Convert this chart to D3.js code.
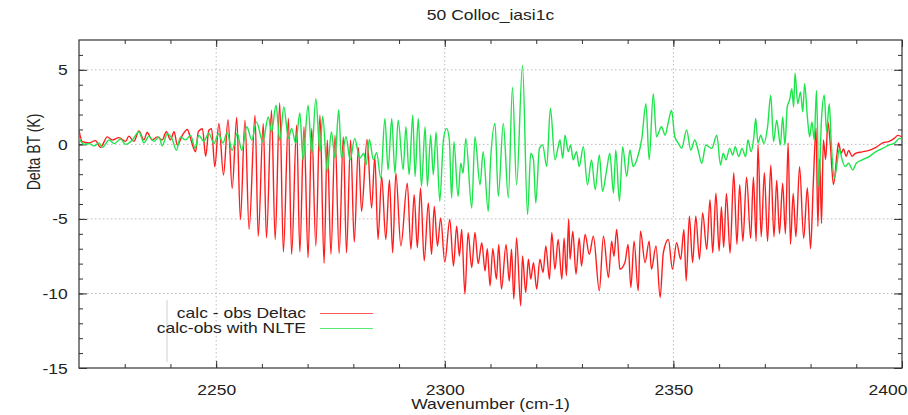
<!DOCTYPE html>
<html>
<head>
<meta charset="utf-8">
<script src="https://cdn.jsdelivr.net/npm/d3@7"></script>
<style>
  body { margin: 0; background: #fff; }
  text { font-family: "Liberation Sans", Arial, Helvetica, sans-serif; fill: #222; }
</style>
</head>
<body>
<div id="chart"></div>
<script>
// calc - obs Deltac : [wavenumber, delta BT]
var deltacData = [
  [2220.0, 0.95], [2220.7, 0.18], [2222.2, 0.1], [2223.6, 0.25], [2224.7, -0.2], [2226.2, 0.5],
  [2227.3, 0.3], [2228.7, 0.45], [2230.2, 0.2], [2230.9, 0.55], [2232.0, 0.2], [2233.1, 0.9],
  [2234.2, 0.3], [2234.9, 0.8], [2236.0, 0.3], [2237.1, 0.5], [2238.2, 0.3], [2239.1, 0.85],
  [2240.0, 0.3], [2240.8, 0.85], [2241.5, -0.05], [2242.6, 0.6], [2243.7, 1.0], [2244.4, 0.4],
  [2245.5, -0.5], [2246.1, 0.85], [2247.0, 1.05], [2247.7, -0.8], [2248.4, 0.95], [2249.0, 1.05],
  [2249.7, -1.5], [2250.6, 1.4], [2251.6, -2.05], [2252.6, 1.65], [2253.5, -2.95], [2254.5, 1.8],
  [2255.3, -5.05], [2256.3, 1.62], [2257.2, -5.71], [2258.5, 1.96], [2259.2, -6.16], [2260.3, 1.4],
  [2261.0, -6.27], [2262.1, 2.29], [2262.9, -6.38], [2263.9, 2.78], [2264.7, -7.22], [2265.8, 1.73],
  [2266.5, -7.38], [2267.6, 1.29], [2268.3, -7.22], [2269.2, 1.18], [2270.1, -7.6], [2270.9, 1.07],
  [2271.8, -6.82], [2272.7, 1.96], [2273.6, -7.98], [2274.3, 0.29], [2275.1, -7.38], [2276.0, 0.62],
  [2276.9, -7.33], [2277.8, 0.51], [2278.5, -7.27], [2279.4, 0.29], [2280.2, -6.56], [2281.1, -0.2],
  [2281.8, -4.49], [2283.0, 0.33], [2284.0, -4.27], [2284.7, -0.82], [2285.4, -6.38], [2286.2, -2.16],
  [2287.1, -6.38], [2287.9, -2.38], [2288.6, -7.27], [2289.3, -1.93], [2290.4, -6.8], [2291.8, -2.6],
  [2292.6, -7.04], [2293.3, -3.38], [2294.0, -6.93], [2294.7, -2.93], [2295.5, -7.82], [2296.4, -3.93],
  [2297.1, -7.38], [2297.7, -4.16], [2298.4, -6.82], [2299.1, -4.93], [2300.0, -7.9], [2301.1, -5.04],
  [2301.9, -8.16], [2302.6, -5.49], [2303.2, -7.49], [2303.7, -5.71], [2304.4, -10.04], [2305.1, -5.93],
  [2305.9, -8.27], [2306.6, -5.9], [2307.3, -8.0], [2308.1, -6.6], [2308.8, -8.49], [2309.3, -7.0],
  [2309.9, -9.49], [2310.5, -7.0], [2311.3, -9.04], [2311.8, -6.71], [2312.4, -9.71], [2313.4, -6.71],
  [2314.1, -9.16], [2314.6, -7.04], [2315.1, -10.38], [2315.7, -6.27], [2316.6, -10.82], [2317.0, -7.49],
  [2317.7, -9.93], [2318.3, -7.71], [2318.8, -9.04], [2319.4, -7.93], [2320.1, -9.71], [2320.8, -7.71],
  [2321.5, -8.6], [2322.1, -6.82], [2322.9, -9.04], [2323.4, -5.93], [2324.1, -8.38], [2324.8, -6.38],
  [2325.6, -9.04], [2326.1, -6.3], [2326.6, -8.8], [2327.1, -5.0], [2327.4, -7.71], [2328.0, -5.82],
  [2328.7, -8.71], [2329.4, -6.27], [2329.9, -8.16], [2330.7, -6.04], [2331.6, -7.38], [2332.5, -6.16],
  [2333.8, -9.82], [2334.7, -6.16], [2335.8, -8.93], [2336.5, -6.49], [2337.0, -7.5], [2337.6, -5.71],
  [2338.3, -8.38], [2339.4, -7.93], [2340.1, -6.71], [2340.7, -9.6], [2341.4, -6.49], [2342.3, -9.82],
  [2342.8, -5.82], [2343.8, -7.93], [2344.7, -6.49], [2345.2, -8.38], [2346.2, -6.82], [2347.1, -10.27],
  [2347.8, -7.27], [2348.9, -6.38], [2349.8, -8.38], [2350.7, -6.6], [2351.6, -7.71], [2352.3, -5.71],
  [2352.8, -9.16], [2353.5, -4.82], [2354.2, -7.93], [2354.9, -4.82], [2355.7, -7.71], [2356.4, -4.6],
  [2357.3, -7.04], [2358.0, -3.71], [2358.6, -7.27], [2359.3, -3.27], [2360.0, -7.16], [2360.5, -4.2],
  [2361.0, -6.9], [2361.6, -3.3], [2362.4, -7.3], [2363.2, -1.9], [2363.9, -6.7], [2364.5, -2.7],
  [2365.2, -6.5], [2366.0, -2.2], [2366.9, -6.3], [2367.5, -2.2], [2368.1, -6.5], [2368.5, 0.0],
  [2369.2, -6.2], [2369.9, -1.9], [2370.6, -6.5], [2371.3, -1.4], [2372.0, -6.2], [2372.6, -2.4],
  [2373.2, -6.0], [2373.9, -2.6], [2374.5, -6.0], [2375.1, 0.1], [2375.6, -6.7], [2376.2, -3.3],
  [2376.8, -6.2], [2377.6, -1.5], [2378.5, -6.3], [2379.3, -2.9], [2380.0, -7.0], [2380.6, -2.6],
  [2381.2, 1.1], [2381.6, -5.5], [2382.0, -1.0], [2382.4, -5.3], [2382.8, 0.3], [2383.3, -1.0],
  [2383.8, 1.5], [2384.3, 0.1], [2385.0, -2.7], [2385.8, -0.6], [2386.1, 0.1], [2386.7, -0.6],
  [2387.2, -0.3], [2387.8, -0.8], [2388.3, -0.4], [2389.1, -0.8], [2389.8, -0.6], [2391.3, -0.5],
  [2392.8, -0.4], [2394.3, -0.2], [2395.8, 0.1], [2397.2, 0.2], [2398.3, 0.4], [2399.1, 0.6],
  [2400.0, 0.5]
];

// calc-obs with NLTE : [wavenumber, delta BT]
var nlteData = [
  [2220.0, 0.4], [2221.1, 0.0], [2222.2, 0.05], [2223.3, -0.1], [2224.4, 0.1], [2225.1, -0.2],
  [2226.6, 0.3], [2227.7, 0.05], [2229.1, 0.35], [2230.2, 0.0], [2231.7, 0.3], [2233.1, 0.85],
  [2234.2, 0.1], [2235.3, 0.55], [2236.4, 0.2], [2237.5, 0.5], [2238.2, -0.1], [2239.3, 0.7],
  [2240.4, 0.35], [2241.3, -0.4], [2242.2, 0.5], [2243.3, 0.3], [2244.4, 0.6], [2245.4, -0.25],
  [2246.2, 0.6], [2247.3, 0.2], [2248.4, 0.75], [2249.5, 0.05], [2250.5, 0.7], [2251.5, 0.1],
  [2252.4, 0.8], [2253.5, -0.4], [2254.6, 0.75], [2255.6, -0.4], [2256.7, 1.18], [2257.8, 0.29],
  [2258.8, 1.51], [2260.2, 0.18], [2261.4, 1.84], [2262.1, 0.84], [2263.1, 2.62], [2263.9, 0.29],
  [2264.8, 2.51], [2265.8, 0.4], [2266.5, 1.07], [2267.4, 0.07], [2268.3, 2.11], [2269.0, -1.04],
  [2270.1, 2.62], [2270.9, -0.6], [2271.8, 3.07], [2272.7, -0.49], [2273.3, 1.89], [2274.3, -1.82],
  [2275.2, 0.84], [2276.0, -0.93], [2276.8, 2.33], [2277.4, -0.93], [2278.4, 0.51], [2279.3, -1.04],
  [2280.3, 0.4], [2281.4, -0.93], [2282.3, -0.6], [2282.8, -1.38], [2283.5, 0.33], [2284.4, -1.04],
  [2285.1, -0.56], [2286.0, -2.27], [2286.9, 1.73], [2287.6, -1.71], [2288.4, 1.73], [2289.1, -1.93],
  [2289.8, 1.62], [2290.9, -1.71], [2291.5, 1.18], [2292.2, -2.04], [2293.0, 1.96], [2293.5, -2.16],
  [2294.2, 1.73], [2294.9, -2.82], [2295.7, 1.18], [2296.2, -2.82], [2296.9, 0.62], [2297.5, -2.04],
  [2298.1, 0.84], [2298.9, -3.82], [2299.7, 0.29], [2300.4, 1.07], [2301.0, 0.29], [2301.5, -3.6],
  [2302.0, 0.18], [2302.9, -3.49], [2303.5, -1.27], [2304.0, -1.93], [2304.6, 0.4], [2305.9, -4.27],
  [2306.6, 0.51], [2307.7, -2.71], [2308.4, -0.49], [2309.5, -4.49], [2310.0, -1.16], [2311.0, 1.4],
  [2311.7, -3.49], [2312.8, 1.4], [2313.9, -3.6], [2314.8, 3.84], [2315.7, -2.71], [2317.0, 5.29],
  [2318.1, -4.71], [2318.8, -0.6], [2319.4, -1.04], [2319.9, -3.93], [2320.7, -0.27], [2321.4, -0.04],
  [2322.3, -1.49], [2323.1, 2.42], [2324.1, -1.04], [2324.8, -0.16], [2325.2, 0.29], [2325.8, -0.93],
  [2326.3, 0.62], [2327.0, -0.49], [2327.5, -0.04], [2328.1, -1.04], [2328.8, -0.49], [2329.4, -1.49],
  [2330.3, -0.16], [2331.2, -2.71], [2332.1, -1.04], [2332.9, -3.04], [2333.8, -0.71], [2334.5, -3.16],
  [2335.4, -1.71], [2336.1, -0.6], [2336.9, -3.27], [2337.4, -0.38], [2338.2, -3.82], [2338.9, -0.16],
  [2339.8, -2.16], [2340.5, -0.38], [2341.2, -1.49], [2342.1, -0.93], [2343.1, 0.4], [2344.0, 2.73],
  [2344.7, -1.04], [2345.6, 3.4], [2346.3, 0.51], [2347.4, 1.18], [2348.2, 0.62], [2348.9, 1.51],
  [2349.6, 2.29], [2350.3, 0.51], [2351.1, 0.07], [2351.8, -0.27], [2352.9, 0.96], [2353.8, -0.38],
  [2354.7, 0.29], [2355.4, -0.38], [2356.2, -1.27], [2357.1, -0.04], [2358.4, -0.27], [2359.5, 0.62],
  [2360.3, -1.38], [2360.9, -0.6], [2361.5, -1.04], [2362.3, -0.27], [2363.0, -0.71], [2363.5, -0.16],
  [2364.3, -0.82], [2365.0, -0.27], [2365.8, -0.82], [2366.3, 0.29], [2367.0, -0.49], [2367.6, 0.51],
  [2368.0, 1.73], [2368.5, 0.07], [2369.1, 0.62], [2369.8, 0.07], [2370.6, 1.18], [2371.3, 3.29],
  [2371.9, 0.18], [2372.6, 1.62], [2373.4, -0.04], [2373.9, 1.84], [2374.4, -0.04], [2374.9, 2.51],
  [2375.4, 2.96], [2375.9, 3.73], [2376.3, 2.51], [2376.6, 4.78], [2377.2, 2.73], [2377.8, 3.51],
  [2378.3, 2.18], [2378.7, 4.07], [2379.3, 1.84], [2379.8, 0.51], [2380.3, 1.51], [2380.8, 0.29],
  [2381.3, 3.62], [2381.8, -2.82], [2382.4, 1.73], [2383.0, 3.29], [2383.5, 0.84], [2384.1, 2.73],
  [2384.5, 0.29], [2385.2, -2.27], [2385.8, -1.27], [2386.3, -0.27], [2386.9, -1.04], [2387.6, -1.49],
  [2388.3, -1.27], [2389.2, -1.71], [2390.0, -1.27], [2391.3, -1.04], [2392.8, -0.82], [2394.3, -0.49],
  [2395.8, -0.27], [2397.2, -0.04], [2398.3, 0.07], [2399.5, 0.4], [2400.0, 0.35]
];

var xMajor = [2250, 2300, 2350, 2400];
var yMajor = [-15, -10, -5, 0, 5];
var xGrid = [2250, 2300, 2350];
var yGrid = [-10, -5, 0, 5];
var seriesNames = ["calc - obs Deltac", "calc-obs with NLTE"];
var seriesColors = ["#ff1f1f", "#1fe44c"];

var width = 908, height = 415;
var plotL = 79, plotR = 902, plotT = 40, plotB = 368;
var stretch = 1.25; // the picture's text is wider than it is tall

var svg = d3.select("#chart").append("svg")
            .attr("width", width)
            .attr("height", height);

// the reference is a resized bitmap, so the traces are a little soft
var defs = svg.append("defs");
defs.append("filter").attr("id", "soft")
    .attr("filterUnits", "userSpaceOnUse")
    .attr("x", 0).attr("y", 0).attr("width", width).attr("height", height)
    .append("feGaussianBlur").attr("stdDeviation", 0.35);

var x = d3.scaleLinear().domain([2220, 2400]).range([plotL, plotR]);
var y = d3.scaleLinear().domain([-15, 7]).range([plotB, plotT]);

// grid
svg.append("g").selectAll("line")
   .data(xGrid).enter().append("line")
   .attr("x1", function (d) { return x(d); })
   .attr("x2", function (d) { return x(d); })
   .attr("y1", plotT).attr("y2", plotB)
   .style("stroke", "#bbb").style("stroke-width", 1)
   .style("stroke-dasharray", "1.5,2.5");

svg.append("g").selectAll("line")
   .data(yGrid).enter().append("line")
   .attr("x1", plotL).attr("x2", plotR)
   .attr("y1", function (d) { return y(d); })
   .attr("y2", function (d) { return y(d); })
   .style("stroke", "#bbb").style("stroke-width", 1)
   .style("stroke-dasharray", "1.5,2.5");

// axes, ticks point inward like gnuplot
var xMinor = d3.range(2230, 2400, 10);
var yMinor = d3.range(-14, 7, 1);

function noLabel() { return ""; }

svg.append("g").attr("transform", "translate(0," + plotB + ")")
   .call(d3.axisBottom(x).tickValues(xMinor).tickSize(-4).tickFormat(noLabel));
svg.append("g").attr("transform", "translate(0," + plotT + ")")
   .call(d3.axisTop(x).tickValues(xMinor).tickSize(-4).tickFormat(noLabel));
svg.append("g").attr("transform", "translate(" + plotL + ",0)")
   .call(d3.axisLeft(y).tickValues(yMinor).tickSize(-4).tickFormat(noLabel));
svg.append("g").attr("transform", "translate(" + plotR + ",0)")
   .call(d3.axisRight(y).tickValues(yMinor).tickSize(-4).tickFormat(noLabel));

var xAxis = svg.append("g").attr("class", "xaxis").attr("transform", "translate(0," + plotB + ")")
   .call(d3.axisBottom(x).tickValues(xMajor).tickSize(-7).tickPadding(17)
         .tickFormat(function (d) { return String(d); }));
svg.append("g").attr("transform", "translate(0," + plotT + ")")
   .call(d3.axisTop(x).tickValues(xMajor).tickSize(-7).tickFormat(noLabel));
var yAxis = svg.append("g").attr("class", "yaxis").attr("transform", "translate(" + plotL + ",0)")
   .call(d3.axisLeft(y).tickValues(yMajor).tickSize(-8).tickPadding(19)
         .tickFormat(function (d) { return String(d); }));
svg.append("g").attr("transform", "translate(" + plotR + ",0)")
   .call(d3.axisRight(y).tickValues(yMajor).tickSize(-8).tickFormat(noLabel));

svg.selectAll(".domain").remove();
svg.selectAll(".tick line").style("stroke", "#333");

xAxis.selectAll("text")
     .attr("font-size", 14).attr("fill", "#222")
     .attr("transform", "scale(" + stretch + ",1)")
     .filter(function (d) { return d === 2400; })
     .attr("text-anchor", "end").attr("x", 5 / stretch);
yAxis.selectAll("text")
     .attr("font-size", 14).attr("fill", "#222")
     .attr("x", -9).attr("dy", "0.36em")
     .attr("transform", "scale(" + stretch + ",1)");

// frame
svg.append("rect")
   .attr("x", plotL).attr("y", plotT)
   .attr("width", plotR - plotL).attr("height", plotB - plotT)
   .style("fill", "none").style("stroke", "#333").style("stroke-width", 1.2);

// stray mark left of the key in the original picture
svg.append("line")
   .attr("x1", 167).attr("x2", 167).attr("y1", 300).attr("y2", 362)
   .style("stroke", "#c4c4c4").style("stroke-width", 0.8);

// data lines
defs.append("clipPath").attr("id", "plotclip")
    .append("rect").attr("x", plotL).attr("y", plotT)
    .attr("width", plotR - plotL).attr("height", plotB - plotT);

var line = d3.line()
             .curve(d3.curveMonotoneX)
             .x(function (d) { return x(d[0]); })
             .y(function (d) { return y(d[1]); });

var plot = svg.append("g").attr("clip-path", "url(#plotclip)");
plot.append("path").datum(deltacData)
    .attr("d", line).attr("filter", "url(#soft)")
    .style("fill", "none").style("stroke", seriesColors[0])
    .style("stroke-width", 1.4).style("stroke-linejoin", "round");
plot.append("path").datum(nlteData)
    .attr("d", line).attr("filter", "url(#soft)")
    .style("fill", "none").style("stroke", seriesColors[1])
    .style("stroke-width", 1.4).style("stroke-linejoin", "round");

// legend
var legend = svg.append("g").selectAll("g")
                .data(seriesNames).enter().append("g")
                .attr("transform", function (d, i) { return "translate(0," + (313 + i * 15) + ")"; });
legend.append("text")
      .attr("transform", "translate(306,0) scale(" + stretch + ",1)")
      .attr("text-anchor", "end").attr("dy", "0.36em")
      .attr("font-size", 14)
      .text(function (d) { return d; });
legend.append("line")
      .attr("x1", 320).attr("x2", 373).attr("y1", 0).attr("y2", 0)
      .attr("filter", "url(#soft)")
      .style("stroke", function (d, i) { return seriesColors[i]; })
      .style("stroke-width", 1.4);

// titles
svg.append("text")
   .attr("transform", "translate(" + ((plotL + plotR) / 2) + ",20) scale(" + stretch + ",1)")
   .attr("text-anchor", "middle").attr("font-size", 14)
   .text("50 Colloc_iasi1c");

svg.append("text")
   .attr("transform", "translate(" + ((plotL + plotR) / 2) + ",409) scale(" + stretch + ",1)")
   .attr("text-anchor", "middle").attr("font-size", 14)
   .text("Wavenumber (cm-1)");

svg.append("text")
   .attr("transform", "translate(40,152) scale(" + stretch + ",1) rotate(-90)")
   .attr("text-anchor", "middle").attr("font-size", 14)
   .text("Delta BT (K)");
</script>
</body>
</html>
